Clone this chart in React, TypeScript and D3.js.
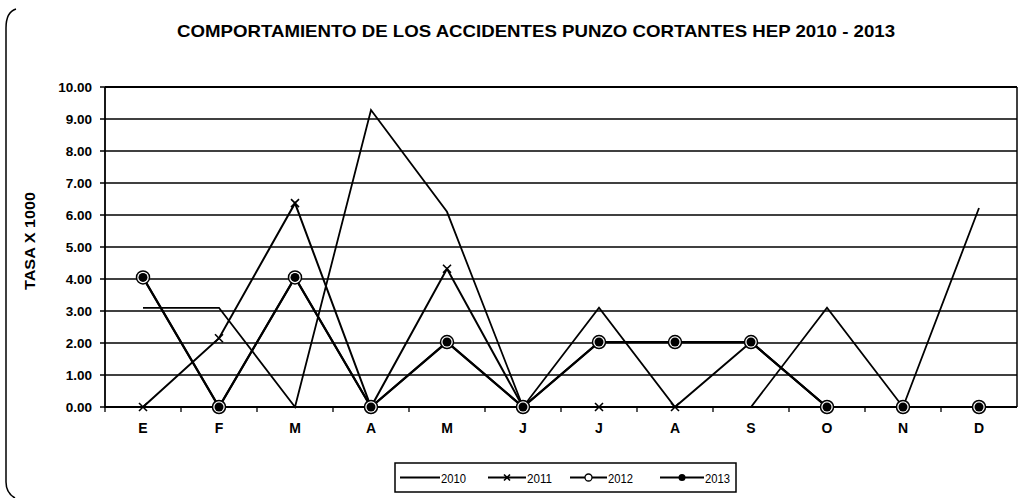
import React from 'react';
import * as d3 from 'd3';

// Chart data
const months = ['E', 'F', 'M', 'A', 'M', 'J', 'J', 'A', 'S', 'O', 'N', 'D'];
const s2010 = [3.1, 3.1, 0, 9.28, 6.1, 0, 3.1, 0, 0, 3.1, 0, 6.22];
const s2011 = [0, 2.15, 6.37, 0, 4.32, 0, 0, 0, 2.03, 0, 0, 0];
const s2012 = [4.05, 0, 4.05, 0, 2.03, 0, 2.03, 2.03, 2.03, 0, 0, 0];
const s2013 = [4.05, 0, 4.05, 0, 2.03, 0, 2.03, 2.03, 2.03, 0, 0, 0];
const yTicks = [0, 1, 2, 3, 4, 5, 6, 7, 8, 9, 10];
const legendNames = ['2010', '2011', '2012', '2013'];

const W = 1022;
const H = 498;
const FONT = '"Liberation Sans", Arial, sans-serif';

const Cross = ({ cx, cy, s = 4 }: { cx: number; cy: number; s?: number }) => (
  <path d={`M${cx - s},${cy - s}L${cx + s},${cy + s}M${cx - s},${cy + s}L${cx + s},${cy - s}`} stroke="#000" strokeWidth={1.6} />
);

export default function App() {
  const plot = { left: 105, right: 1017, top: 87, bottom: 407 };

  const x = d3.scaleBand<number>()
    .domain(months.map((_, i) => i))
    .range([plot.left, plot.right]);
  const cx = (i: number) => (x(i) as number) + x.bandwidth() / 2;

  const y = d3.scaleLinear().domain([0, 10]).range([plot.bottom, plot.top]);

  const line = d3.line<number>()
    .x((_, i) => cx(i))
    .y(d => y(d));

  const fmt = d3.format('.2f');

  // legend layout
  const legend = { x: 395, y: 463, w: 341, h: 29 };
  const legendItems = [
    { x0: 400, x1: 440, tx: 441 },
    { x0: 488, x1: 526, tx: 527 },
    { x0: 570, x1: 607, tx: 608 },
    { x0: 660, x1: 704, tx: 705 },
  ];
  const ly = legend.y + legend.h / 2;

  return (
    <svg width={W} height={H} style={{ position: 'absolute', left: 0, top: 0, background: '#fff' }}>
      {/* outer frame (only the left side shows in the scan) */}
      <path d="M16,9 Q6,12 6,28 L6,482 Q6,493 15,498" fill="none" stroke="#000" strokeWidth={1.5} />

      <text x={536} y={37} textAnchor="middle" fontFamily={FONT} fontWeight="bold" fontSize={17}
        textLength={718} lengthAdjust="spacingAndGlyphs">
        COMPORTAMIENTO DE LOS ACCIDENTES PUNZO CORTANTES HEP 2010 - 2013
      </text>

      {/* gridlines */}
      {yTicks.map(t => (
        <line key={t} x1={plot.left} x2={plot.right} y1={y(t)} y2={y(t)} stroke="#000" strokeWidth={t === 10 ? 2.2 : 1.6} />
      ))}
      {/* plot right border + left axis */}
      <line x1={plot.right} x2={plot.right} y1={plot.top} y2={plot.bottom} stroke="#000" strokeWidth={1.5} />
      <line x1={plot.left} x2={plot.left} y1={plot.top} y2={plot.bottom + 1} stroke="#000" strokeWidth={1.8} />

      {/* y ticks and labels */}
      {yTicks.map(t => (
        <g key={t}>
          <line x1={plot.left - 5} x2={plot.left} y1={y(t)} y2={y(t)} stroke="#000" strokeWidth={1.5} />
          <text x={92} y={y(t) + 5} textAnchor="end" fontFamily={FONT} fontWeight="bold" fontSize={13.5}>
            {fmt(t)}
          </text>
        </g>
      ))}
      <text
        transform={`translate(35,${(plot.top + plot.bottom) / 2 - 6}) rotate(-90)`}
        textAnchor="middle"
        fontFamily={FONT}
        fontWeight="bold"
        fontSize={14}
        textLength={98}
        lengthAdjust="spacingAndGlyphs"
      >
        TASA X 1000
      </text>

      {/* x ticks between categories */}
      {months.map((_, i) => (
        <line key={i} x1={x(i) as number} x2={x(i) as number} y1={plot.bottom} y2={plot.bottom + 5} stroke="#000" strokeWidth={1.3} />
      ))}
      <line x1={plot.left} x2={plot.right} y1={plot.bottom} y2={plot.bottom} stroke="#000" strokeWidth={2.2} />
      {months.map((m, i) => (
        <text key={i} x={cx(i)} y={433} textAnchor="middle" fontFamily={FONT} fontWeight="bold" fontSize={14}>
          {m}
        </text>
      ))}

      {/* series lines */}
      <path d={line(s2010) || ''} fill="none" stroke="#000" strokeWidth={1.8} />
      <path d={line(s2011) || ''} fill="none" stroke="#000" strokeWidth={2} />
      <path d={line(s2012) || ''} fill="none" stroke="#000" strokeWidth={2} />
      <path d={line(s2013) || ''} fill="none" stroke="#000" strokeWidth={2.2} />

      {/* markers */}
      {s2011.map((v, i) => <Cross key={i} cx={cx(i)} cy={y(v)} />)}
      {s2012.map((v, i) => (
        <circle key={i} cx={cx(i)} cy={y(v)} r={6.5} fill="#fff" stroke="#000" strokeWidth={1.5} />
      ))}
      {s2013.map((v, i) => (
        <circle key={i} cx={cx(i)} cy={y(v)} r={4.5} fill="#000" />
      ))}

      {/* legend */}
      <rect x={legend.x} y={legend.y} width={legend.w} height={legend.h} fill="#fff" stroke="#000" strokeWidth={1.5} />
      {legendItems.map((it, k) => {
        const mid = (it.x0 + it.x1) / 2;
        return (
          <g key={k}>
            <line x1={it.x0} x2={it.x1} y1={ly} y2={ly} stroke="#000" strokeWidth={2} />
            {k === 1 && <Cross cx={mid} cy={ly} s={3} />}
            {k === 2 && <circle cx={mid} cy={ly} r={3.5} fill="#fff" stroke="#000" strokeWidth={1.3} />}
            {k === 3 && <circle cx={mid} cy={ly} r={3.5} fill="#000" />}
            <text x={it.tx} y={ly + 5} fontFamily={FONT} fontSize={13} textLength={25} lengthAdjust="spacingAndGlyphs">
              {legendNames[k]}
            </text>
          </g>
        );
      })}
    </svg>
  );
}
